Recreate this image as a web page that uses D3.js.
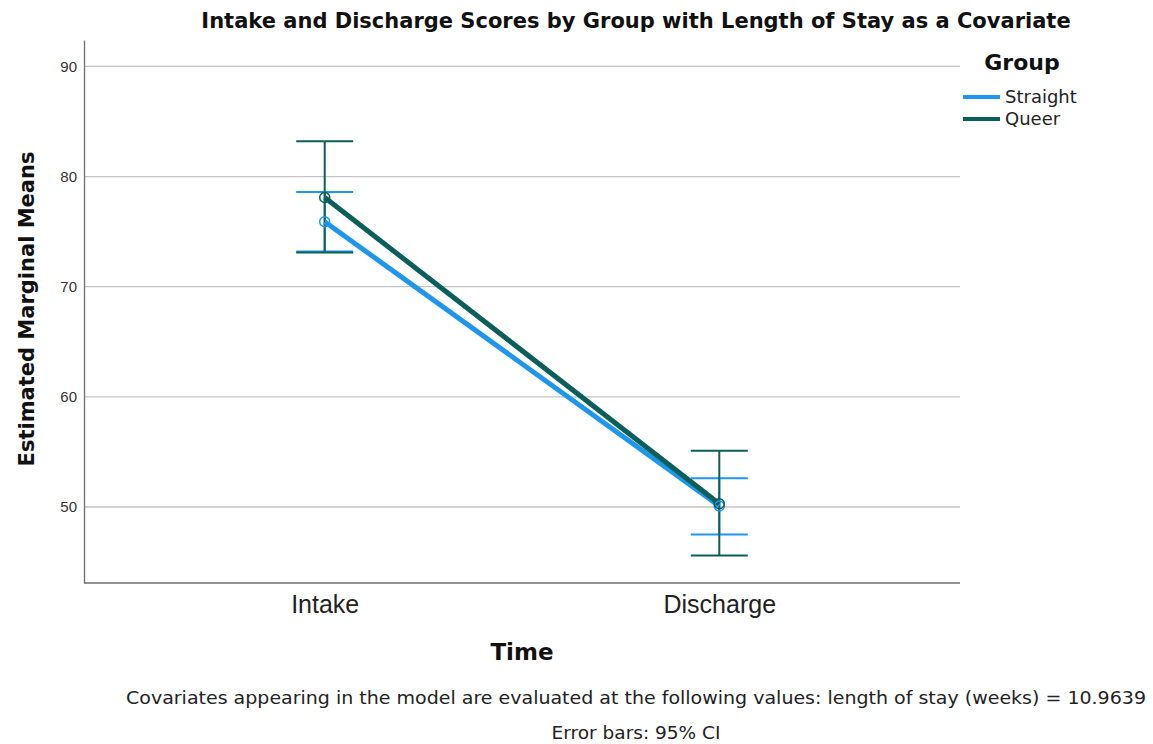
<!DOCTYPE html>
<html>
<head>
<meta charset="utf-8">
<script src="https://cdn.jsdelivr.net/npm/d3@7"></script>
<style>
  html, body { margin: 0; padding: 0; background: #fff; }
  svg { display: block; font-family: "DejaVu Sans", sans-serif; }
</style>
</head>
<body>
<svg id="chart" width="1153" height="744"></svg>
<script>
// Estimated marginal means with 95% CI per group and time point
const timePoints = ["Intake", "Discharge"];
const groups = ["Straight", "Queer"];
const straightMeans = [75.9, 50.1];
const straightLower = [73.2, 47.5];
const straightUpper = [78.6, 52.6];
const queerMeans = [78.1, 50.3];
const queerLower = [73.1, 45.6];
const queerUpper = [83.2, 55.1];
const yTicks = [50, 60, 70, 80, 90];
const groupColors = ["#1e96ee", "#0b5f5b"];

const series = [
  { name: groups[0], color: groupColors[0], means: straightMeans, lo: straightLower, hi: straightUpper },
  { name: groups[1], color: groupColors[1], means: queerMeans, lo: queerLower, hi: queerUpper }
];

const svg = d3.select("#chart");
const plot = { left: 84, right: 960, top: 40, bottom: 583 };

const x = d3.scalePoint().domain(timePoints).range([plot.left, plot.right]).padding(0.61);
const y = d3.scaleLinear().domain([43.1, 92.4]).range([plot.bottom, plot.top]);

// gridlines
svg.append("g")
  .selectAll("line")
  .data(yTicks)
  .join("line")
  .attr("x1", plot.left).attr("x2", plot.right)
  .attr("y1", d => y(d)).attr("y2", d => y(d))
  .attr("stroke", "#c4c4c4").attr("stroke-width", 1.3);

// y axis
const yAxis = svg.append("g")
  .attr("transform", `translate(${plot.left},0)`)
  .call(d3.axisLeft(y).tickValues(yTicks).tickSize(0).tickPadding(7));
yAxis.select(".domain").attr("stroke", "#6e6e6e").attr("stroke-width", 1.3);
yAxis.selectAll("text").attr("font-size", 15).attr("fill", "#333");

// x axis
const xAxis = svg.append("g")
  .attr("transform", `translate(0,${plot.bottom})`)
  .call(d3.axisBottom(x).tickSize(0).tickPadding(12));
xAxis.select(".domain").attr("d", `M${plot.left},0H${plot.right}`).attr("stroke", "#6e6e6e").attr("stroke-width", 1.3);
xAxis.selectAll("text").attr("font-size", 25).attr("fill", "#222");

// error bars
const capHalf = 28.5;
series.forEach(s => {
  const g = svg.append("g");
  timePoints.forEach((t, i) => {
    const cx = x(t);
    g.append("line")
      .attr("x1", cx).attr("x2", cx)
      .attr("y1", y(s.lo[i])).attr("y2", y(s.hi[i]))
      .attr("stroke", s.color).attr("stroke-width", 2);
    [s.lo[i], s.hi[i]].forEach(v => {
      g.append("line")
        .attr("x1", cx - capHalf).attr("x2", cx + capHalf)
        .attr("y1", y(v)).attr("y2", y(v))
        .attr("stroke", s.color).attr("stroke-width", 2);
    });
  });
});

// mean lines
const line = d3.line().x((d, i) => x(timePoints[i])).y(d => y(d));
series.forEach(s => {
  svg.append("path")
    .datum(s.means)
    .attr("d", line)
    .attr("fill", "none")
    .attr("stroke", s.color)
    .attr("stroke-width", 5);
});

// mean markers
series.forEach(s => {
  svg.append("g")
    .selectAll("circle")
    .data(s.means)
    .join("circle")
    .attr("cx", (d, i) => x(timePoints[i]))
    .attr("cy", d => y(d))
    .attr("r", 5)
    .attr("fill", "none")
    .attr("stroke", s.color)
    .attr("stroke-width", 1.5);
});

// title
svg.append("text")
  .attr("x", 636).attr("y", 28)
  .attr("text-anchor", "middle")
  .attr("font-size", 21).attr("font-weight", "bold").attr("fill", "#111")
  .text("Intake and Discharge Scores by Group with Length of Stay as a Covariate");

// axis titles
svg.append("text")
  .attr("transform", "translate(34,309) rotate(-90)")
  .attr("text-anchor", "middle")
  .attr("font-size", 21).attr("font-weight", "bold").attr("fill", "#111")
  .text("Estimated Marginal Means");

svg.append("text")
  .attr("x", (plot.left + plot.right) / 2).attr("y", 660)
  .attr("text-anchor", "middle")
  .attr("font-size", 23).attr("font-weight", "bold").attr("fill", "#111")
  .text("Time");

// legend
const legend = svg.append("g");
legend.append("text")
  .attr("x", 1022).attr("y", 70)
  .attr("text-anchor", "middle")
  .attr("font-size", 22).attr("font-weight", "bold").attr("fill", "#111")
  .text("Group");
series.forEach((s, i) => {
  const ly = 97 + i * 22;
  legend.append("line")
    .attr("x1", 963).attr("x2", 1000)
    .attr("y1", ly).attr("y2", ly)
    .attr("stroke", s.color).attr("stroke-width", 4);
  legend.append("text")
    .attr("x", 1005).attr("y", ly + 6)
    .attr("font-size", 18).attr("fill", "#222")
    .text(s.name);
});

// footnotes
svg.append("text")
  .attr("x", 636).attr("y", 704)
  .attr("text-anchor", "middle")
  .attr("font-size", 17).attr("fill", "#222")
  .attr("textLength", 1020).attr("lengthAdjust", "spacingAndGlyphs")
  .text("Covariates appearing in the model are evaluated at the following values: length of stay (weeks) = 10.9639");
svg.append("text")
  .attr("x", 636).attr("y", 739)
  .attr("text-anchor", "middle")
  .attr("font-size", 17).attr("fill", "#222")
  .attr("textLength", 169).attr("lengthAdjust", "spacingAndGlyphs")
  .text("Error bars: 95% CI");
</script>
</body>
</html>
